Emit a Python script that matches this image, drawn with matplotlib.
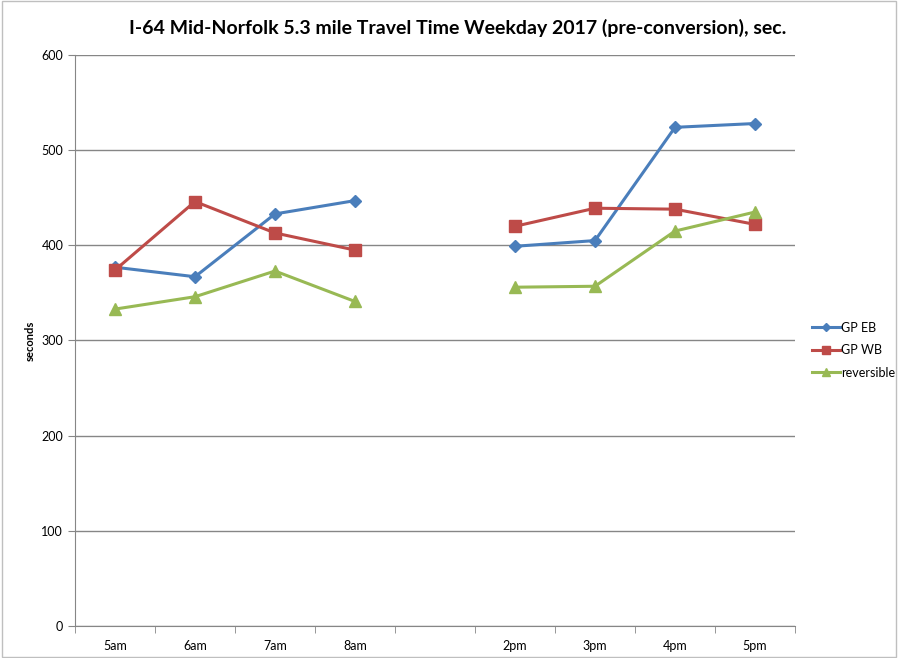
import numpy as np
import matplotlib
matplotlib.use('Agg')
import matplotlib.pyplot as plt

plt.rcParams['font.family'] = ['Lato', 'DejaVu Sans']

# categories (one empty slot between morning and afternoon)
hours = ['5am', '6am', '7am', '8am', '', '2pm', '3pm', '4pm', '5pm']
gp_eb = [377, 367, 433, 447, np.nan, 399, 405, 524, 528]
gp_wb = [374, 446, 413, 395, np.nan, 420, 439, 438, 422]
reversible = [333, 346, 373, 341, np.nan, 356, 357, 415, 435]

fig = plt.figure(figsize=(8.98, 6.58), dpi=100)
ax = fig.add_axes([75/898, 32/658, 720/898, 571/658])

x = np.arange(len(hours))
ax.plot(x, gp_eb, color='#4A7EBB', marker='D', markersize=6, lw=2.2, label='GP EB')
ax.plot(x, gp_wb, color='#BE4B48', marker='s', markersize=8, lw=2.2, label='GP WB')
ax.plot(x, reversible, color='#98B954', marker='^', markersize=8, lw=2.2, label='reversible')

ax.set_xlim(-0.5, len(hours) - 0.5)
ax.set_ylim(0, 600)
ax.set_yticks(range(0, 601, 100))
ax.set_xticks(x)
ax.set_xticklabels(hours, fontsize=9)
ax.set_xticks(np.arange(-0.5, len(hours), 1), minor=True)
ax.tick_params(axis='x', which='major', length=0, pad=10)
ax.tick_params(axis='x', which='minor', length=5, color='#868686')
ax.tick_params(axis='y', length=5, color='#868686', labelsize=9)

ax.yaxis.grid(True, color='#868686', lw=1)
ax.set_axisbelow(True)
for s in ['top', 'right']:
    ax.spines[s].set_visible(False)
for s in ['left', 'bottom']:
    ax.spines[s].set_color('#868686')

ax.set_ylabel('seconds', fontsize=8, fontweight='bold', labelpad=4)
fig.text(458/898, 1 - 28/658, 'I-64 Mid-Norfolk 5.3 mile Travel Time Weekday 2017 (pre-conversion), sec.',
         ha='center', va='center', fontsize=14, fontweight='bold')

ax.legend(loc='center left', bbox_to_anchor=(1.0, 0.483), frameon=False, fontsize=9,
          handlelength=2.2, handletextpad=0.1, labelspacing=0.85, borderaxespad=1.0,
          markerscale=0.75)

fig.patches.append(plt.Rectangle((0.002, 0.002), 0.996, 0.996, transform=fig.transFigure,
                                 fill=False, edgecolor='#bfbfbf', lw=1))

fig.savefig('out.png', dpi=100)
